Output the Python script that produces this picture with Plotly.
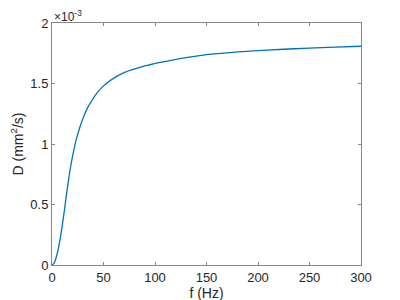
import plotly.graph_objects as go

freq_hz = [0, 2, 4, 6, 8, 10, 12, 14, 16, 18, 20, 23, 26, 30, 34, 38, 43, 49, 55, 62,
           70, 78, 87, 95, 105, 118, 135, 150, 175, 200, 225, 250, 275, 300]
d_e3 = [0, 0.015, 0.06, 0.13, 0.22, 0.33, 0.45, 0.58, 0.70, 0.81, 0.90, 1.02, 1.11, 1.21,
        1.29, 1.35, 1.415, 1.472, 1.515, 1.555, 1.59, 1.615, 1.638, 1.655, 1.674, 1.695,
        1.72, 1.738, 1.758, 1.772, 1.783, 1.792, 1.80, 1.808]
d_vals = [v * 1e-3 for v in d_e3]

x_ticks = [0, 50, 100, 150, 200, 250, 300]
y_ticks = [0, 0.0005, 0.001, 0.0015, 0.002]
y_ticktext = ["0", "0.5", "1", "1.5", "2"]

FONT = "Liberation Sans, Arial, Helvetica"
TXT = "#262626"

fig = go.Figure()
fig.add_trace(go.Scatter(x=freq_hz, y=d_vals, mode="lines",
                         line=dict(color="#0072BD", width=1.3, shape="spline", smoothing=1.0),
                         showlegend=False, hoverinfo="skip"))

axis_common = dict(showgrid=False, zeroline=False, showline=True, linecolor="#868686", linewidth=1,
                   mirror="ticks", ticks="inside", ticklen=3, tickcolor="#868686", automargin=False,
                   tickfont=dict(family=FONT, size=13, color=TXT))
fig.update_xaxes(range=[0, 300], tickvals=x_ticks,
                 title=dict(text="f (Hz)", standoff=2, font=dict(family=FONT, size=14, color=TXT)),
                 **axis_common)
fig.update_yaxes(range=[0, 0.002], tickvals=y_ticks, ticktext=y_ticktext,
                 title=dict(text="D (mm<sup>2</sup>/s)", standoff=4, font=dict(family=FONT, size=14, color=TXT)),
                 **axis_common)
fig.add_annotation(x=0, y=1, xref="paper", yref="paper", xanchor="left", yanchor="bottom",
                   text="×10<sup>-3</sup>", showarrow=False, xshift=0, yshift=-3,
                   font=dict(family=FONT, size=12, color=TXT))
fig.update_layout(width=400, height=300, margin=dict(l=44, r=47, t=15, b=43),
                  paper_bgcolor="white", plot_bgcolor="white")
fig.write_html("out.html")
